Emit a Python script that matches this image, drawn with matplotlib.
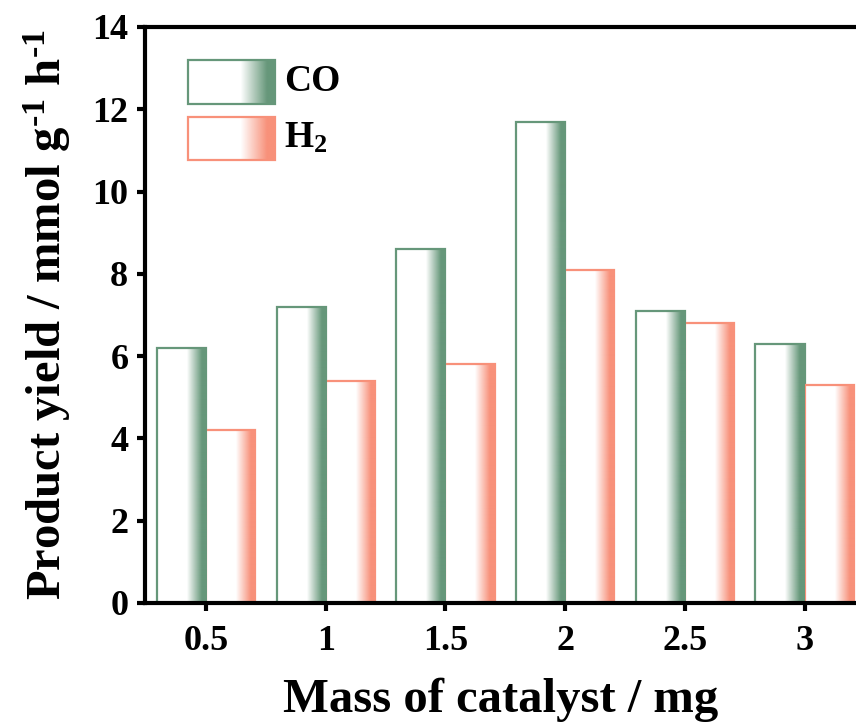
import matplotlib
matplotlib.use("Agg")
import matplotlib.pyplot as plt
import numpy as np
from matplotlib.colors import to_rgb
from matplotlib.patches import Rectangle

# data
masses = ["0.5", "1", "1.5", "2", "2.5", "3"]
co_yield = [6.2, 7.2, 8.6, 11.7, 7.1, 6.3]
h2_yield = [4.2, 5.4, 5.8, 8.1, 6.8, 5.3]

green = "#66977a"
orange = "#f8917a"

plt.rcParams["font.family"] = "Liberation Serif"
plt.rcParams["font.weight"] = "bold"
plt.rcParams["mathtext.fontset"] = "custom"
plt.rcParams["mathtext.rm"] = "Liberation Serif:bold"
plt.rcParams["mathtext.bf"] = "Liberation Serif:bold"
plt.rcParams["mathtext.default"] = "bf"


def grad_img(color):
    # white on the left part, fading into the colour towards the right edge
    t = np.linspace(0, 1, 200)
    a = np.clip((t - 0.6) / 0.3, 0, 1)
    rgba = np.zeros((1, 200, 4))
    rgba[..., :3] = to_rgb(color)
    rgba[..., 3] = a
    return rgba


fig = plt.figure(figsize=(8.56, 7.27), dpi=100)
ax = fig.add_axes([0.1694, 0.1706, 0.8306, 0.7923])

x = np.arange(len(masses))
w = 0.41
for vals, off, col in [(co_yield, -w / 2, green), (h2_yield, w / 2, orange)]:
    bars = ax.bar(x + off, vals, w, facecolor="white", edgecolor=col, linewidth=1.6, zorder=2)
    for b in bars:
        x0, y0 = b.get_x(), b.get_y()
        ax.imshow(grad_img(col), extent=[x0, x0 + b.get_width(), y0, y0 + b.get_height()],
                  aspect="auto", zorder=2.5, interpolation="bilinear")

# legend drawn by hand so the gradient shows in the keys
for (ytop, ybot), col, lab in [((0.943, 0.866), green, "CO"), ((0.844, 0.769), orange, "H$_2$")]:
    ax.add_patch(Rectangle((0.0605, ybot), 0.1225, ytop - ybot, transform=ax.transAxes,
                           facecolor="white", edgecolor=col, linewidth=1.6, zorder=3))
    ax.imshow(grad_img(col), extent=[0.0605, 0.183, ybot, ytop], aspect="auto",
              transform=ax.transAxes, zorder=3.5, interpolation="bilinear")
    ax.text(0.195, (ytop + ybot) / 2, lab, transform=ax.transAxes, fontsize=27,
            fontweight="bold", va="center", ha="left")

ax.set_xlim(-0.51, 5.43)
ax.set_ylim(0, 14)
ax.set_xticks(x)
ax.set_xticklabels(masses)
ax.set_yticks(np.arange(0, 15, 2))
ax.tick_params(direction="out", length=6, width=3, labelsize=26, pad=6)
ax.tick_params(axis="x", pad=10)
for s in ["left", "bottom", "top"]:
    ax.spines[s].set_linewidth(3)
ax.spines["right"].set_visible(False)

ax.set_xlabel("Mass of catalyst / mg", fontsize=35, fontweight="bold", labelpad=14)
ax.set_ylabel(r"Product yield / mmol g$^{\text{-}1}$ h$^{\text{-}1}$", fontsize=35,
              fontweight="bold", labelpad=14)

fig.savefig("out.png", dpi=100)
